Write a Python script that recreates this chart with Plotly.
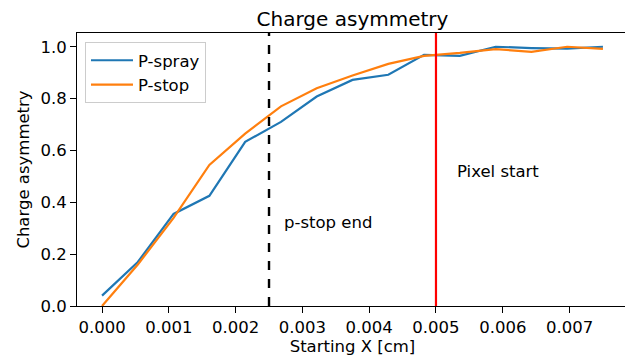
import plotly.graph_objects as go

# posiciones de inicio (cm) y asimetria de carga
x_start = [0.0, 0.000536, 0.001071, 0.001607, 0.002143, 0.002679, 0.003214, 0.00375,
           0.004286, 0.004821, 0.005357, 0.005893, 0.006429, 0.006964, 0.0075]
p_spray = [0.04, 0.17, 0.355, 0.425, 0.633, 0.71, 0.808, 0.872,
           0.892, 0.969, 0.965, 1.0, 0.995, 0.993, 1.0]
p_stop = [0.0, 0.16, 0.34, 0.544, 0.665, 0.77, 0.84, 0.889,
          0.934, 0.965, 0.976, 0.991, 0.98, 1.0, 0.992]

pstop_end = 0.0025
pixel_start = 0.005
x_ticks = [0.0, 0.001, 0.002, 0.003, 0.004, 0.005, 0.006, 0.007]
y_ticks = [0.0, 0.2, 0.4, 0.6, 0.8, 1.0]

fnt = "DejaVu Sans"
fs = 16.5

fig = go.Figure()
fig.add_trace(go.Scatter(x=x_start, y=p_spray, mode="lines", name="P-spray",
                         line=dict(color="#1f77b4", width=2.2)))
fig.add_trace(go.Scatter(x=x_start, y=p_stop, mode="lines", name="P-stop",
                         line=dict(color="#ff7f0e", width=2.2)))

fig.add_vline(x=pstop_end, line=dict(color="black", width=2.4, dash="dash"))
fig.add_vline(x=pixel_start, line=dict(color="red", width=2.2))

fig.add_annotation(x=0.00269, y=0.324, text="p-stop end", showarrow=False,
                   xanchor="left", yanchor="middle", font=dict(size=fs, color="black", family=fnt))
fig.add_annotation(x=0.00529, y=0.52, text="Pixel start", showarrow=False,
                   xanchor="left", yanchor="middle", font=dict(size=fs, color="black", family=fnt))

fig.update_xaxes(range=[-0.000375, 0.007875], tickvals=x_ticks,
                 ticktext=["%.3f" % v for v in x_ticks],
                 ticks="outside", ticklen=6, tickcolor="black",
                 showline=True, linecolor="black", linewidth=1, mirror=True,
                 showgrid=False, zeroline=False,
                 title=dict(text="Starting X [cm]", font=dict(size=fs, family=fnt), standoff=4),
                 tickfont=dict(size=fs, family=fnt, color="black"))
fig.update_yaxes(range=[0, 1.053], tickvals=y_ticks,
                 ticktext=["%.1f" % v for v in y_ticks],
                 ticks="outside", ticklen=6, tickcolor="black",
                 showline=True, linecolor="black", linewidth=1, mirror=True,
                 showgrid=False, zeroline=False,
                 title=dict(text="Charge asymmetry", font=dict(size=fs, family=fnt), standoff=6),
                 tickfont=dict(size=fs, family=fnt, color="black"))

# la pagina tiene 8px de margen en body, se compensa aqui
fig.update_layout(
    width=625, height=350,
    margin=dict(l=69, r=5, t=25, b=52),
    paper_bgcolor="white", plot_bgcolor="white",
    font=dict(family=fnt, color="black"),
    title=dict(text="Charge asymmetry", xref="paper", x=0.5, xanchor="center",
               y=0.968, yanchor="middle",
               font=dict(size=20, family=fnt, color="black")),
    legend=dict(x=0.0145, y=0.967, xanchor="left", yanchor="top",
                bgcolor="rgba(255,255,255,0.8)", bordercolor="#cccccc", borderwidth=1,
                itemwidth=42, font=dict(size=fs, family=fnt)),
    showlegend=True,
)

fig.write_html("out.html")
